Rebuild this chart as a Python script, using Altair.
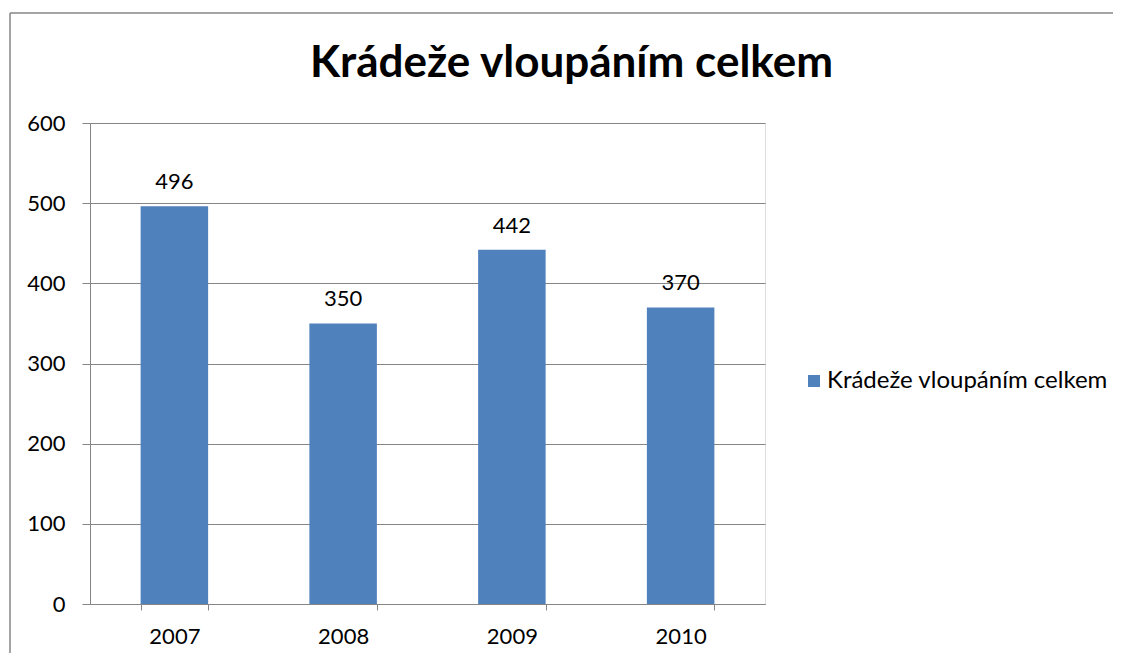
import altair as alt
import pandas as pd

years = ["2007", "2008", "2009", "2010"]
values = [496, 350, 442, 370]
series_name = "Krádeže vloupáním celkem"
title_text = "Krádeže vloupáním celkem"

df = pd.DataFrame({"rok": years, "hodnota": values, "serie": [series_name] * len(years)})

FONT = "Lato"
GRAY = "#868686"
BLUE = "#4F81BD"
W, H = 675, 481

x_enc = alt.X(
    "rok:N",
    title=None,
    sort=years,
    scale=alt.Scale(paddingInner=0.6, paddingOuter=0.3),
    axis=alt.Axis(
        labelAngle=0, tickBand="extent", tickSize=6, labelPadding=16,
        labelFontSize=22, labelColor="black", labelFont=FONT,
        domainColor=GRAY, tickColor=GRAY, grid=False,
    ),
)
y_enc = alt.Y(
    "hodnota:Q",
    title=None,
    scale=alt.Scale(domain=[0, 600]),
    axis=alt.Axis(
        values=[0, 100, 200, 300, 400, 500, 600], tickSize=8, labelPadding=17,
        labelFontSize=22, labelColor="black", labelFont=FONT,
        domainColor=GRAY, tickColor=GRAY, gridColor=GRAY, grid=True,
    ),
)

bars = alt.Chart(df).mark_bar(color=BLUE).encode(
    x=x_enc,
    y=y_enc,
    color=alt.Color(
        "serie:N",
        scale=alt.Scale(range=[BLUE]),
        legend=alt.Legend(
            title=None, orient="none", legendX=712, legendY=246,
            symbolType="square", symbolSize=144, symbolStrokeWidth=0,
            labelFontSize=24, labelFont=FONT, labelColor="black",
            labelLimit=400, symbolOffset=0, labelOffset=1,
        ),
    ),
)

labels = alt.Chart(df).mark_text(
    baseline="bottom", dy=-12, fontSize=22, font=FONT, color="black"
).encode(x=alt.X("rok:N", sort=years), y="hodnota:Q", text="hodnota:Q")

frame_df = pd.DataFrame({"k": [0]})
frame_left = alt.Chart(frame_df).mark_rule(color=GRAY, strokeWidth=1.5).encode(
    x=alt.value(-80), y=alt.value(-110), y2=alt.value(H + 60)
)
frame_top = alt.Chart(frame_df).mark_rule(color=GRAY, strokeWidth=1.5).encode(
    x=alt.value(-80), x2=alt.value(W + 360), y=alt.value(-110)
)
title_df = pd.DataFrame({"t": [title_text]})
title_mark = alt.Chart(title_df).mark_text(
    fontSize=44, font=FONT, fontWeight="bold", color="black",
    align="center", baseline="alphabetic",
).encode(x=alt.value(481.5), y=alt.value(-46), text="t:N")

chart = alt.layer(frame_left, frame_top, title_mark, bars, labels).properties(
    width=W,
    height=H,
    autosize=alt.AutoSizeParams(type="none"),
    padding={"left": 82, "top": 115, "right": 348, "bottom": 49},
).configure_view(stroke=None).configure(background="white")

chart.save("out.html", embed_options={"renderer": "svg", "actions": False})
